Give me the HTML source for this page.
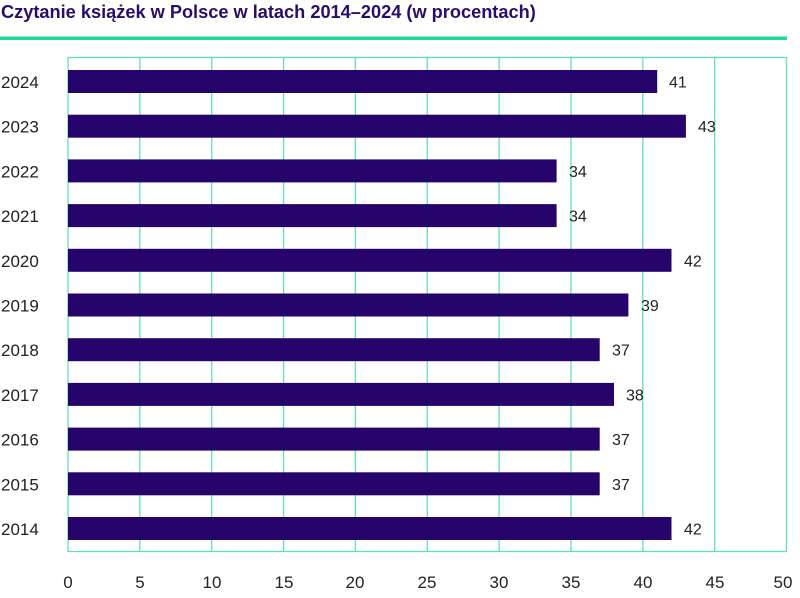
<!DOCTYPE html>
<html><head><meta charset="utf-8"><style>
body{margin:0;background:#fff;width:800px;height:593px;overflow:hidden}
</style></head><body>
<svg width="800" height="593" xmlns="http://www.w3.org/2000/svg" font-family="Liberation Sans, sans-serif">
<text x="1" y="18" font-size="18.2" font-weight="bold" fill="#2a0d6b">Czytanie książek w Polsce w latach 2014–2024 (w procentach)</text>
<rect x="0" y="36.5" width="787" height="3.5" fill="#1ed99a"/>
<g stroke="#5fe0bd" stroke-width="1.3" fill="none">
<rect x="68" y="57.5" width="718.5" height="494"/>
<line x1="139.85" y1="57.5" x2="139.85" y2="551.5"/>
<line x1="211.7" y1="57.5" x2="211.7" y2="551.5"/>
<line x1="283.55" y1="57.5" x2="283.55" y2="551.5"/>
<line x1="355.4" y1="57.5" x2="355.4" y2="551.5"/>
<line x1="427.25" y1="57.5" x2="427.25" y2="551.5"/>
<line x1="499.1" y1="57.5" x2="499.1" y2="551.5"/>
<line x1="570.95" y1="57.5" x2="570.95" y2="551.5"/>
<line x1="642.8" y1="57.5" x2="642.8" y2="551.5"/>
<line x1="714.65" y1="57.5" x2="714.65" y2="551.5"/>
</g>
<g fill="#26046b">
<rect x="68" y="70" width="589.2" height="23"/>
<rect x="68" y="114.7" width="617.9" height="23"/>
<rect x="68" y="159.4" width="488.6" height="23"/>
<rect x="68" y="204.1" width="488.6" height="23"/>
<rect x="68" y="248.8" width="603.5" height="23"/>
<rect x="68" y="293.5" width="560.4" height="23"/>
<rect x="68" y="338.2" width="531.7" height="23"/>
<rect x="68" y="382.9" width="546" height="23"/>
<rect x="68" y="427.6" width="531.7" height="23"/>
<rect x="68" y="472.3" width="531.7" height="23"/>
<rect x="68" y="517" width="603.5" height="23"/>
</g>
<g font-size="17" fill="#222">
<text x="1" y="88">2024</text>
<text x="1" y="132.7">2023</text>
<text x="1" y="177.4">2022</text>
<text x="1" y="222.1">2021</text>
<text x="1" y="266.8">2020</text>
<text x="1" y="311.5">2019</text>
<text x="1" y="356.2">2018</text>
<text x="1" y="400.9">2017</text>
<text x="1" y="445.6">2016</text>
<text x="1" y="490.3">2015</text>
<text x="1" y="535">2014</text>
</g>
<g font-size="16" fill="#222">
<text x="669" y="87.5">41</text>
<text x="698" y="132.2">43</text>
<text x="569" y="176.9">34</text>
<text x="569" y="221.6">34</text>
<text x="684" y="266.3">42</text>
<text x="641" y="311">39</text>
<text x="612" y="355.7">37</text>
<text x="626" y="400.4">38</text>
<text x="612" y="445.1">37</text>
<text x="612" y="489.8">37</text>
<text x="684" y="534.5">42</text>
</g>
<g font-size="17" fill="#222" text-anchor="middle">
<text x="68" y="588">0</text><text x="140" y="588">5</text><text x="212" y="588">10</text>
<text x="284" y="588">15</text><text x="355" y="588">20</text><text x="427" y="588">25</text>
<text x="499" y="588">30</text><text x="571" y="588">35</text><text x="643" y="588">40</text>
<text x="715" y="588">45</text><text x="783" y="588">50</text>
</g>
</svg>
</body></html>
